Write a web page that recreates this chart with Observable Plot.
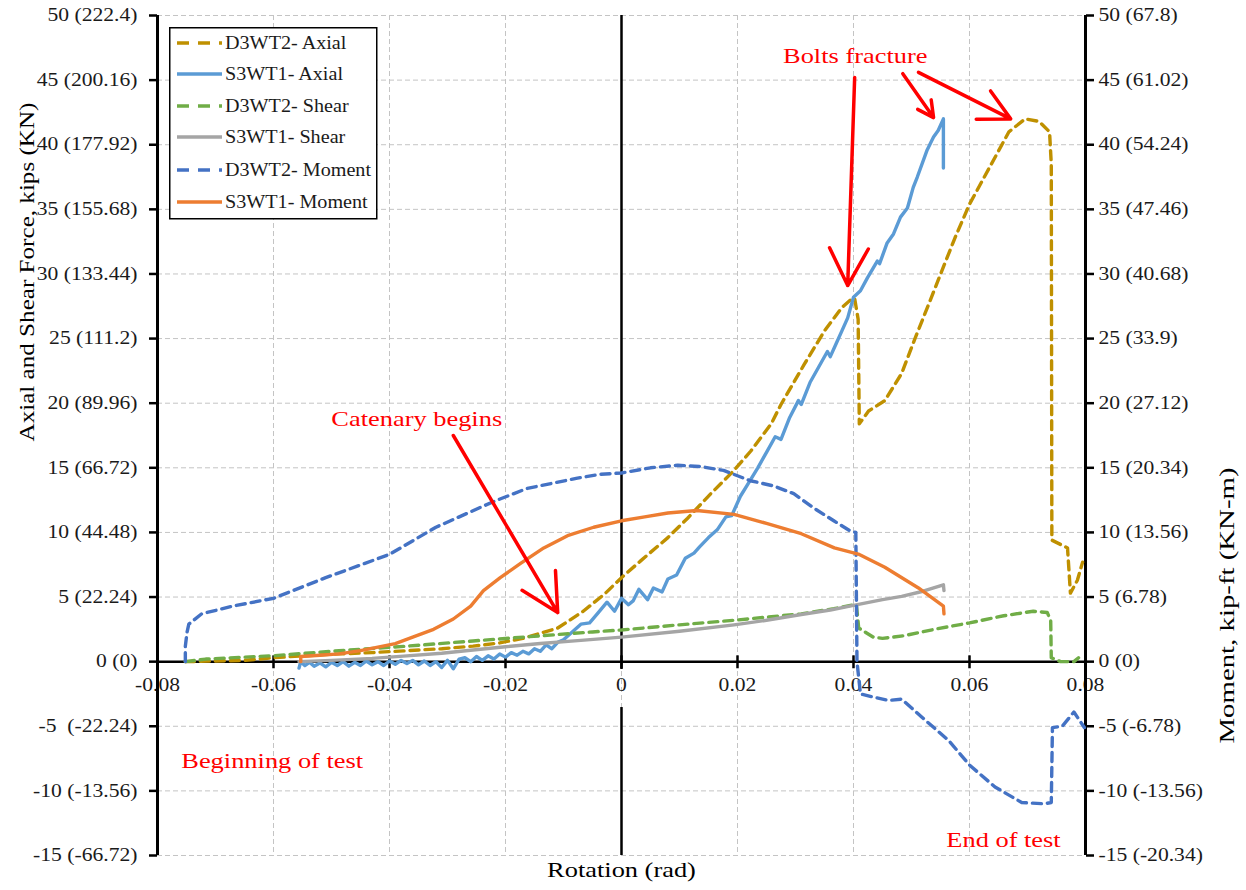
<!DOCTYPE html>
<html>
<head>
<meta charset="utf-8">
<script src="https://cdn.jsdelivr.net/npm/d3@7"></script>
<script src="https://cdn.jsdelivr.net/npm/@observablehq/plot@0.6"></script>
<style>
  html, body { margin: 0; padding: 0; background: #fff; }
  #wrap { position: relative; width: 1246px; height: 890px; }
  #legend { position: absolute; left: 169px; top: 27px; }
  text { font-family: "Liberation Serif", "Times New Roman", serif; }
</style>
</head>
<body>
<div id="wrap"><div id="chart"></div><svg id="legend" width="209" height="193"></svg></div>
<script>
// ---- ticks ----
const xTicks = [-0.08, -0.06, -0.04, -0.02, 0, 0.02, 0.04, 0.06, 0.08];
const xTickLabels = ["-0.08", "-0.06", "-0.04", "-0.02", "0", "0.02", "0.04", "0.06", "0.08"];
const yTicks = [-15, -10, -5, 0, 5, 10, 15, 20, 25, 30, 35, 40, 45, 50];
const leftTickLabels = ["-15 (-66.72)", "-10 (-13.56)", "-5  (-22.24)", "0 (0)", "5 (22.24)", "10 (44.48)", "15 (66.72)", "20 (89.96)", "25 (111.2)", "30 (133.44)", "35 (155.68)", "40 (177.92)", "45 (200.16)", "50 (222.4)"];
const rightTickLabels = ["-15 (-20.34)", "-10 (-13.56)", "-5 (-6.78)", "0 (0)", "5 (6.78)", "10 (13.56)", "15 (20.34)", "20 (27.12)", "25 (33.9)", "30 (40.68)", "35 (47.46)", "40 (54.24)", "45 (61.02)", "50 (67.8)"];

// ---- series ----
const d3wt2AxialX = [-0.0752,-0.070,-0.065,-0.060,-0.055,-0.0487,-0.043,-0.037,-0.031,-0.0256,-0.021,-0.017,-0.014,-0.011,-0.0066,-0.003,0,0.0033,0.008,0.0114,0.0154,0.0194,0.0223,0.0258,0.0275,0.0315,0.035,0.038,0.0395,0.0402,0.0408,0.0410,0.0426,0.0454,0.0483,0.0506,0.053,0.0552,0.0575,0.060,0.0634,0.0668,0.0696,0.072,0.0738,0.0741,0.0742,0.0769,0.0774,0.0786,0.0795];
const d3wt2AxialY = [0,0.05,0.1,0.3,0.45,0.6,0.7,0.85,1.0,1.2,1.45,1.8,2.2,2.6,3.9,5.2,6.5,7.8,9.6,11.1,13.0,14.8,16.3,18.4,19.9,23.0,25.6,27.4,28.0,28.1,26.5,18.4,19.4,20.2,22.3,25.0,27.7,30.2,32.8,35.4,38.2,41.0,42.0,41.8,41.0,38.5,9.4,8.8,5.3,6.3,7.7];

const s3wt1AxialX = [-0.0556,-0.0553,-0.0546,-0.0538,-0.053,-0.052,-0.051,-0.050,-0.049,-0.048,-0.047,-0.046,-0.045,-0.044,-0.043,-0.042,-0.041,-0.040,-0.039,-0.038,-0.037,-0.036,-0.035,-0.034,-0.033,-0.032,-0.031,-0.030,-0.029,-0.028,-0.027,-0.026,-0.025,-0.024,-0.023,-0.022,-0.021,-0.020,-0.019,-0.018,-0.017,-0.016,-0.015,-0.014,-0.013,-0.012,-0.011,-0.010,-0.0085,-0.007,-0.0055,-0.004,-0.0025,-0.0012,0,0.0012,0.002,0.003,0.0045,0.0055,0.007,0.008,0.0095,0.011,0.0125,0.0135,0.015,0.0165,0.018,0.019,0.0205,0.022,0.0235,0.025,0.0265,0.0275,0.029,0.0305,0.031,0.0325,0.034,0.0355,0.036,0.037,0.038,0.039,0.040,0.0412,0.0424,0.0441,0.0445,0.0458,0.0469,0.0481,0.0493,0.0503,0.051,0.0527,0.0538,0.0546,0.0555,0.0555];
const s3wt1AxialY = [-0.5,0.0,-0.3,-0.05,-0.35,-0.1,-0.4,-0.05,-0.3,0.0,-0.35,-0.05,-0.3,0.05,-0.25,0.0,-0.3,0.05,-0.2,0.1,-0.15,0.1,-0.25,0.05,-0.3,0.0,-0.45,0.1,-0.55,0.2,0.3,0.0,0.4,0.1,0.45,0.2,0.6,0.35,0.7,0.5,0.8,0.6,1.0,0.8,1.3,1.0,1.5,1.7,2.3,2.9,3.0,3.8,4.6,3.9,4.9,4.4,4.7,5.6,4.8,5.7,5.4,6.4,6.7,8.0,8.4,8.9,9.6,10.2,11.2,11.3,12.8,13.9,15.0,16.2,17.4,17.2,18.9,20.2,19.9,21.6,22.8,24.0,23.6,24.6,25.6,26.6,28.2,28.7,29.7,31.0,30.8,32.4,33.1,34.4,35.1,36.7,37.5,39.6,40.6,41.1,42.0,38.2];

const d3wt2ShearX = [-0.0752,-0.0717,-0.065,-0.060,-0.0487,-0.037,-0.0256,-0.014,-0.005,0,0.010,0.0194,0.031,0.0366,0.0400,0.0405,0.0409,0.0434,0.045,0.0486,0.0545,0.060,0.0659,0.071,0.0734,0.074,0.0741,0.0757,0.078,0.0788];
const d3wt2ShearY = [0,0.2,0.35,0.46,0.85,1.2,1.6,2.0,2.3,2.45,2.85,3.2,3.7,4.1,4.4,4.4,2.6,1.9,1.8,2.0,2.55,3.0,3.55,3.9,3.8,3.2,0.3,0,0,0.3];

const s3wt1ShearX = [-0.0556,-0.050,-0.043,-0.037,-0.031,-0.0256,-0.020,-0.014,-0.007,0,0.010,0.0194,0.025,0.031,0.036,0.040,0.045,0.0483,0.052,0.0555,0.0556];
const s3wt1ShearY = [0,0.1,0.25,0.45,0.65,0.9,1.15,1.4,1.65,1.9,2.35,2.85,3.2,3.65,4.0,4.35,4.8,5.05,5.45,5.95,5.5];

const d3wt2MomentX = [-0.0752,-0.0752,-0.0749,-0.0746,-0.0724,-0.067,-0.060,-0.051,-0.040,-0.032,-0.022,-0.0163,-0.0076,-0.0036,0,0.005,0.0097,0.0136,0.0176,0.0222,0.0262,0.0297,0.0331,0.0366,0.0395,0.0404,0.0406,0.0412,0.044,0.046,0.0483,0.0518,0.0564,0.060,0.0644,0.069,0.0729,0.0741,0.0743,0.076,0.078,0.0798];
const d3wt2MomentY = [0,1.2,2.3,2.9,3.7,4.3,4.9,6.5,8.3,10.4,12.4,13.4,14.2,14.5,14.6,15.0,15.2,15.1,14.8,14.0,13.6,13.0,11.9,10.9,10.1,10.0,0,-2.5,-2.8,-3.0,-2.9,-4.3,-6.1,-8.0,-9.7,-10.9,-11.0,-10.9,-5.1,-5.0,-3.9,-5.1];

const s3wt1MomentX = [-0.0553,-0.0553,-0.052,-0.0487,-0.045,-0.039,-0.036,-0.0324,-0.029,-0.026,-0.0238,-0.0209,-0.0174,-0.0134,-0.0093,-0.0048,0,0.004,0.008,0.013,0.0194,0.025,0.031,0.0367,0.041,0.0454,0.0512,0.0555,0.0556];
const s3wt1MomentY = [0,0.4,0.5,0.6,0.85,1.4,1.9,2.5,3.3,4.3,5.5,6.5,7.6,8.8,9.75,10.4,10.9,11.2,11.5,11.7,11.4,10.7,9.9,8.8,8.3,7.3,5.7,4.3,3.7];

const seriesNames = ["D3WT2- Axial", "S3WT1- Axial", "D3WT2- Shear", "S3WT1- Shear", "D3WT2- Moment", "S3WT1- Moment"];
const seriesColors = ["#BF9000", "#5B9BD5", "#70AD47", "#A5A5A5", "#4472C4", "#ED7D31"];
const seriesDashed = [true, false, true, false, true, false];
const seriesXs = [d3wt2AxialX, s3wt1AxialX, d3wt2ShearX, s3wt1ShearX, d3wt2MomentX, s3wt1MomentX];
const seriesYs = [d3wt2AxialY, s3wt1AxialY, d3wt2ShearY, s3wt1ShearY, d3wt2MomentY, s3wt1MomentY];

// ---- annotations (data units) ----
const noteTexts = ["Bolts fracture", "Catenary begins"];
const noteX = [0.0403, -0.0353];
const noteY = [46.9, 18.8];
const sideTexts = ["Beginning of test", "End of test"];
const sideX = [-0.0759, 0.0560];
const sideY = [-7.66, -13.8];
const arrowX1 = [0.0402, 0.0485, 0.0512, -0.0290];
const arrowY1 = [45.2, 45.5, 45.6, 17.5];
const arrowX2 = [0.0390, 0.0538, 0.0671, -0.0110];
const arrowY2 = [29.1, 42.1, 42.0, 3.8];

const xTitle = "Rotation (rad)";
const yTitleLeft = "Axial and Shear Force, kips (KN)";
const yTitleRight = "Moment, kip-ft (KN-m)";

// ---- build tables ----
const lineData = seriesNames.map((name, k) => seriesXs[k].map((x, i) => ({name, x, y: seriesYs[k][i]})));
const arrows = arrowX1.map((x1, i) => ({x1, y1: arrowY1[i], x2: arrowX2[i], y2: arrowY2[i]}));
const notes = noteTexts.map((t, i) => ({t, x: noteX[i], y: noteY[i]}));
const sides = sideTexts.map((t, i) => ({t, x: sideX[i], y: sideY[i]}));
const leftMap = new Map(yTicks.map((v, i) => [v, leftTickLabels[i]]));
const rightMap = new Map(yTicks.map((v, i) => [v, rightTickLabels[i]]));

const gridStyle = {stroke: "#c4c4c4", strokeOpacity: 1, strokeWidth: 1, strokeDasharray: "5,3"};

const lineMarks = lineData.map((d, k) => Plot.line(d, {
  x: "x", y: "y", stroke: seriesColors[k], strokeWidth: 3.4,
  strokeDasharray: seriesDashed[k] ? "9,6" : null, curve: "linear"
}));

const chart = Plot.plot({
  width: 1246, height: 890,
  marginLeft: 157, marginRight: 161, marginTop: 15, marginBottom: 35,
  x: {domain: [-0.08, 0.08], axis: null},
  y: {domain: [-15, 50], axis: null},
  style: {fontFamily: "'Liberation Serif', 'Times New Roman', serif", fontSize: "18px", color: "#1a1a1a", background: "#fff"},
  marks: [
    Plot.gridY(yTicks, gridStyle),
    Plot.gridX(xTicks, gridStyle),
    // x tick labels along y = 0
    Plot.text(xTicks, {x: d => d, y: 0, dy: 24, text: (d, i) => xTickLabels[i], fontSize: 18, fill: "#1a1a1a"}),
    // axes lines
    Plot.ruleX([-0.08, 0.08], {stroke: "#000", strokeWidth: 3}),
    Plot.ruleY([0], {stroke: "#000", strokeWidth: 2.5}),
    Plot.ruleX([{y1: -0.6, y2: 50}, {y1: -3.55, y2: -15}], {x: () => 0, y1: "y1", y2: "y2", stroke: "#000", strokeWidth: 2.5}),
    Plot.ruleX(xTicks, {x: d => d, y1: -0.55, y2: 0.45, stroke: "#000", strokeWidth: 2.5}),
    Plot.axisY(yTicks, {anchor: "left", tickSize: 8, tickPadding: 12, tickFormat: d => leftMap.get(d), label: null, fontSize: 18, stroke: "#000", strokeWidth: 2.5}),
    Plot.axisY(yTicks, {anchor: "right", tickSize: 8, tickPadding: 5, tickFormat: d => rightMap.get(d), label: null, fontSize: 18, stroke: "#000", strokeWidth: 2.5}),
    // titles
    Plot.text([yTitleLeft], {text: d => d, frameAnchor: "left", dx: -131, dy: 6, rotate: -90, fontSize: 22, fill: "#000"}),
    Plot.text([yTitleRight], {text: d => d, frameAnchor: "right", dx: 141, dy: 32, rotate: -90, fontSize: 22, fill: "#000"}),
    Plot.text([xTitle], {text: d => d, frameAnchor: "bottom", dy: 21, fontSize: 22, fill: "#000"}),
    // data
    ...lineMarks,
    // annotations
    Plot.arrow(arrows, {x1: "x1", y1: "y1", x2: "x2", y2: "y2", stroke: "#FF0000", strokeWidth: 3.5, headLength: 18, headAngle: 55}),
    Plot.text(notes, {x: "x", y: "y", text: "t", fill: "#FF0000", fontSize: 22, textAnchor: "middle"}),
    Plot.text(sides, {x: "x", y: "y", text: "t", fill: "#FF0000", fontSize: 22, textAnchor: "start"})
  ]
});

document.getElementById("chart").append(chart);

// ---- legend ----
const lg = d3.select("#legend");
lg.append("rect").attr("x", 0.75).attr("y", 0.75).attr("width", 207).attr("height", 191)
  .attr("fill", "#fff").attr("stroke", "#000").attr("stroke-width", 1.5);
const rowY = [16, 47, 79, 110, 143, 175];
seriesNames.forEach((name, k) => {
  lg.append("line").attr("x1", 8).attr("x2", 53).attr("y1", rowY[k]).attr("y2", rowY[k])
    .attr("stroke", seriesColors[k]).attr("stroke-width", 3.4)
    .attr("stroke-dasharray", seriesDashed[k] ? "12,9" : null);
  lg.append("text").attr("class", "lgtext").attr("x", 56).attr("y", rowY[k]).attr("dy", "0.33em")
    .attr("font-size", 19).attr("fill", "#1a1a1a").text(name);
});

// ---- horizontal stretch of text to mimic the reference ----
const explicitLen = {};
explicitLen[yTitleLeft] = 339;
explicitLen[yTitleRight] = 276;
document.querySelectorAll("#wrap text").forEach(t => {
  const s = t.textContent;
  if (explicitLen[s]) {
    t.setAttribute("textLength", explicitLen[s]);
  } else {
    const L = t.getComputedTextLength();
    const f = t.classList.contains("lgtext") ? 1.06 : 1.2;
    if (L > 0) t.setAttribute("textLength", (L * f).toFixed(1));
  }
  t.setAttribute("lengthAdjust", "spacingAndGlyphs");
});
</script>
</body>
</html>
